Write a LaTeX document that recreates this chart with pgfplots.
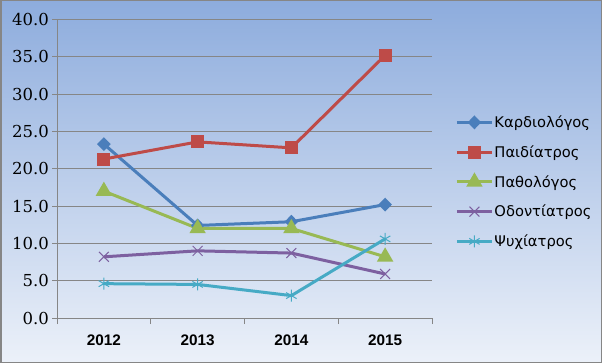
\documentclass[border=0pt]{standalone}
\usepackage{fontspec}
\setmainfont{DejaVu Sans}
\newfontfamily\yfont{DejaVu Serif}
\newfontfamily\xfont{Liberation Sans}
\usepackage{pgfplots}
\pgfplotsset{compat=1.18}
\definecolor{c1}{RGB}{74,126,187}
\definecolor{c2}{RGB}{190,75,72}
\definecolor{c3}{RGB}{152,185,84}
\definecolor{c4}{RGB}{125,96,160}
\definecolor{c5}{RGB}{70,170,197}
\definecolor{bgtop}{RGB}{141,172,221}
\definecolor{bgbot}{RGB}{236,241,249}
\definecolor{gridc}{RGB}{134,134,134}
\begin{document}
\begin{tikzpicture}
\useasboundingbox (0,0) rectangle (602bp,363bp);
\shade[top color=bgtop, bottom color=bgbot] (0,0) rectangle (602bp,363bp);
\draw[gridc, line width=1.5bp] (0.75bp,0.75bp) rectangle (601.25bp,362.25bp);
\begin{axis}[
  at={(57bp,45bp)}, anchor=south west,
  scale only axis, width=375bp, height=298.5bp,
  xmin=-0.5, xmax=3.5, ymin=0, ymax=40,
  axis lines*=left,
  axis line style={gridc, line width=0.8bp},
  xtick={0,1,2,3},
  xticklabels={2012,2013,2014,2015},
  minor xtick={-0.5,0.5,1.5,2.5,3.5},
  ytick={0,5,...,40},
  ymajorgrids,
  grid style={gridc, line width=0.8bp},
  tick align=outside,
  major tick length=5bp,
  minor tick length=6bp,
  tick style={gridc, line width=0.8bp},
  x tick style={draw=none},
  minor x tick style={draw=gridc, line width=0.8bp},
  xticklabel style={font=\xfont\bfseries\fontsize{15.3bp}{16bp}\selectfont, yshift=-8bp},
  yticklabel style={font=\yfont\fontsize{16.5bp}{17bp}\selectfont, inner xsep=2bp, xshift=-1bp},
  /pgf/number format/.cd, fixed, fixed zerofill, precision=1, assume math mode=true,
  /pgfplots/.cd,
  clip=false,
  every axis plot/.append style={line width=3bp},
  legend image code/.code={\draw[mark repeat=2,mark phase=2] plot coordinates {(0bp,0bp) (17.5bp,0bp) (35bp,0bp)};},
  legend cell align=left,
  legend style={draw=none, fill=none, inner sep=0pt, at={(1.062,0.456)}, anchor=west,
    row sep=16.5bp, font=\fontsize{14.7bp}{17bp}\selectfont,
    nodes={inner xsep=1bp, inner ysep=0pt}},
]
\addplot[c1, mark=diamond*, mark size=4.8bp, mark options={solid, xscale=1.3}] coordinates {(0,23.3) (1,12.4) (2,12.9) (3,15.2)};
\addplot[c2, mark=square*, mark size=5bp] coordinates {(0,21.3) (1,23.6) (2,22.8) (3,35.2)};
\addplot[c3, mark=triangle*, mark size=6.5bp] coordinates {(0,17.0) (1,12.0) (2,12.0) (3,8.2)};
\addplot[c4, mark=x, mark size=7bp, mark options={line width=1bp}] coordinates {(0,8.2) (1,9.0) (2,8.7) (3,5.9)};
\addplot[c5, mark=asterisk, mark size=6bp, mark options={line width=1bp}] coordinates {(0,4.6) (1,4.5) (2,3.0) (3,10.6)};
\legend{Καρδιολόγος, Παιδίατρος, Παθολόγος, Οδοντίατρος, Ψυχίατρος}
\end{axis}
\end{tikzpicture}
\end{document}
